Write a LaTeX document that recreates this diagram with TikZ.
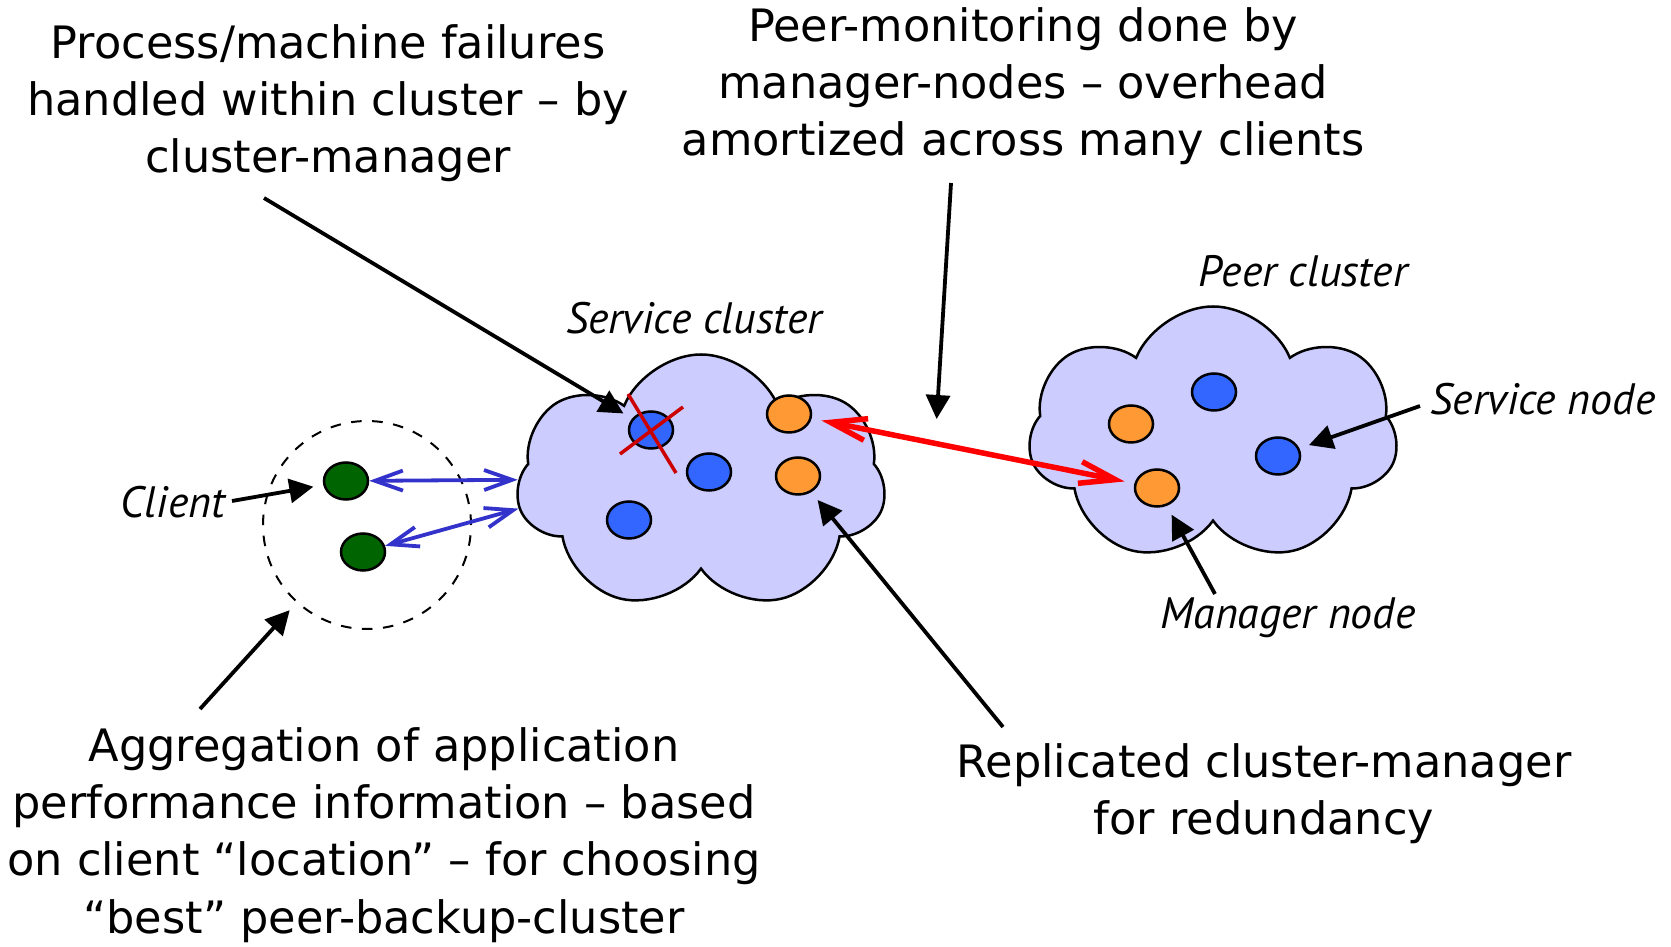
\documentclass[tikz,border=0pt]{standalone}
\usepackage{fontspec}
\setmainfont{DejaVu Sans}
\newfontfamily\lblfont{PT Sans}
\usetikzlibrary{positioning,arrows.meta,shapes.geometric,shapes.symbols}
\definecolor{cloudfill}{RGB}{204,204,255}
\definecolor{srvblue}{RGB}{51,102,255}
\definecolor{mgrorange}{RGB}{255,153,51}
\definecolor{cligreen}{RGB}{0,100,0}
\definecolor{linkblue}{RGB}{51,51,204}
\definecolor{crossred}{RGB}{204,0,0}

\begin{document}
\begin{tikzpicture}[
  x=0.1mm, y=-0.1mm,
  note/.style={align=center, inner sep=0pt, font=\fontsize{12.7}{16.3}\selectfont},
  lbl/.style={inner sep=0pt, font=\lblfont\itshape\fontsize{12.5}{14}\selectfont},
  cluster/.style={cloud, cloud puffs=7, cloud puff arc=135, cloud ignores aspect,
     draw=black, fill=cloudfill, line width=0.25mm,
     minimum width=36.9mm, minimum height=25.7mm},
  srv/.style={ellipse, draw=black, line width=0.25mm, fill=srvblue,
     minimum width=4.4mm, minimum height=3.7mm, inner sep=0pt},
  mgr/.style={srv, fill=mgrorange},
  cli/.style={srv, fill=cligreen},
  ptr/.style={-{Triangle[length=2.4mm,width=2.4mm]}, line width=0.38mm, shorten >=1mm},
  link/.style={{Straight Barb[length=2.8mm,width=2mm]}-{Straight Barb[length=2.8mm,width=2mm]},
     line width=0.38mm, draw=linkblue, line cap=round},
  peerlink/.style={{Straight Barb[length=3.6mm,width=2.2mm]}-{Straight Barb[length=3.6mm,width=2.2mm]},
     line width=0.55mm, draw=red, line cap=round, shorten <=1mm, shorten >=1mm}
  ]
  \useasboundingbox (0,0) rectangle (1671,947);

  % clouds
  \node (sc) [cluster] at (701,483) {};
  \node (pc) [cluster] at (1213,435) {};
  \node (sclbl) [lbl] at (694,318) {Service cluster};
  \node (pclbl) [lbl] at (1303,271) {Peer cluster};

  % service cluster
  \node (s1) [srv] at (651,430) {};
  \node (m1) [mgr] at (789,414) {};
  \node (s2) [srv] at (709,472) {};
  \node (m2) [mgr] at (798,476) {};
  \node (s3) [srv] at (629,520) {};
  \draw [crossred, line width=0.35mm] (628,394) -- (676,473) (620,454) -- (683,407);

  % peer cluster
  \node (s4) [srv] at (1214,392) {};
  \node (m3) [mgr] at (1131,424) {};
  \node (s5) [srv] at (1278,456) {};
  \node (m4) [mgr] at (1157,488) {};

  % clients
  \node (grp) [circle, draw, dashed, line width=0.2mm, minimum size=20.8mm] at (367,525) {};
  \node (c1) [cli] at (346,481) {};
  \node (c2) [cli] at (363,552) {};
  \node (clbl) [lbl] at (173,502) {Client};
  \node (snlbl) [lbl] at (1543,399) {Service node};
  \node (mnlbl) [lbl] at (1288,618) {Manager node};

  \draw [link] (c1) -- (sc.179);
  \draw [link] (c2) -- (sc.188);
  \draw [peerlink] (m1) -- (m4);

  % notes
  \node (failtxt) [note] at (328,103) {Process/machine failures\\handled within cluster -- by\\cluster-manager};
  \node (montxt) [note] at (1023,86) {Peer-monitoring done by\\manager-nodes -- overhead\\amortized across many clients};
  \node (aggtxt) [note] at (384,835) {Aggregation of application\\performance information -- based\\on client ``location'' -- for choosing\\``best'' peer-backup-cluster};
  \node (reptxt) [note] at (1264,794) {Replicated cluster-manager\\for redundancy};

  \coordinate (failend) at (264,198);
  \coordinate (monend) at (951,183);
  \coordinate (montip) at (936,429);
  \coordinate (repend) at (1003,727);
  \coordinate (aggend) at (200,709);
  \coordinate (cliend) at (232,501);
  \coordinate (snend) at (1420,406);
  \coordinate (mnend) at (1215,594);

  \draw [ptr] (failend) -- (s1);
  \draw [ptr] (monend) -- (montip);
  \draw [ptr] (repend) -- (m2);
  \draw [ptr] (aggend) -- (grp);
  \draw [ptr] (cliend) -- (c1);
  \draw [ptr] (snend) -- (s5);
  \draw [ptr] (mnend) -- (m4);
\end{tikzpicture}
\end{document}
